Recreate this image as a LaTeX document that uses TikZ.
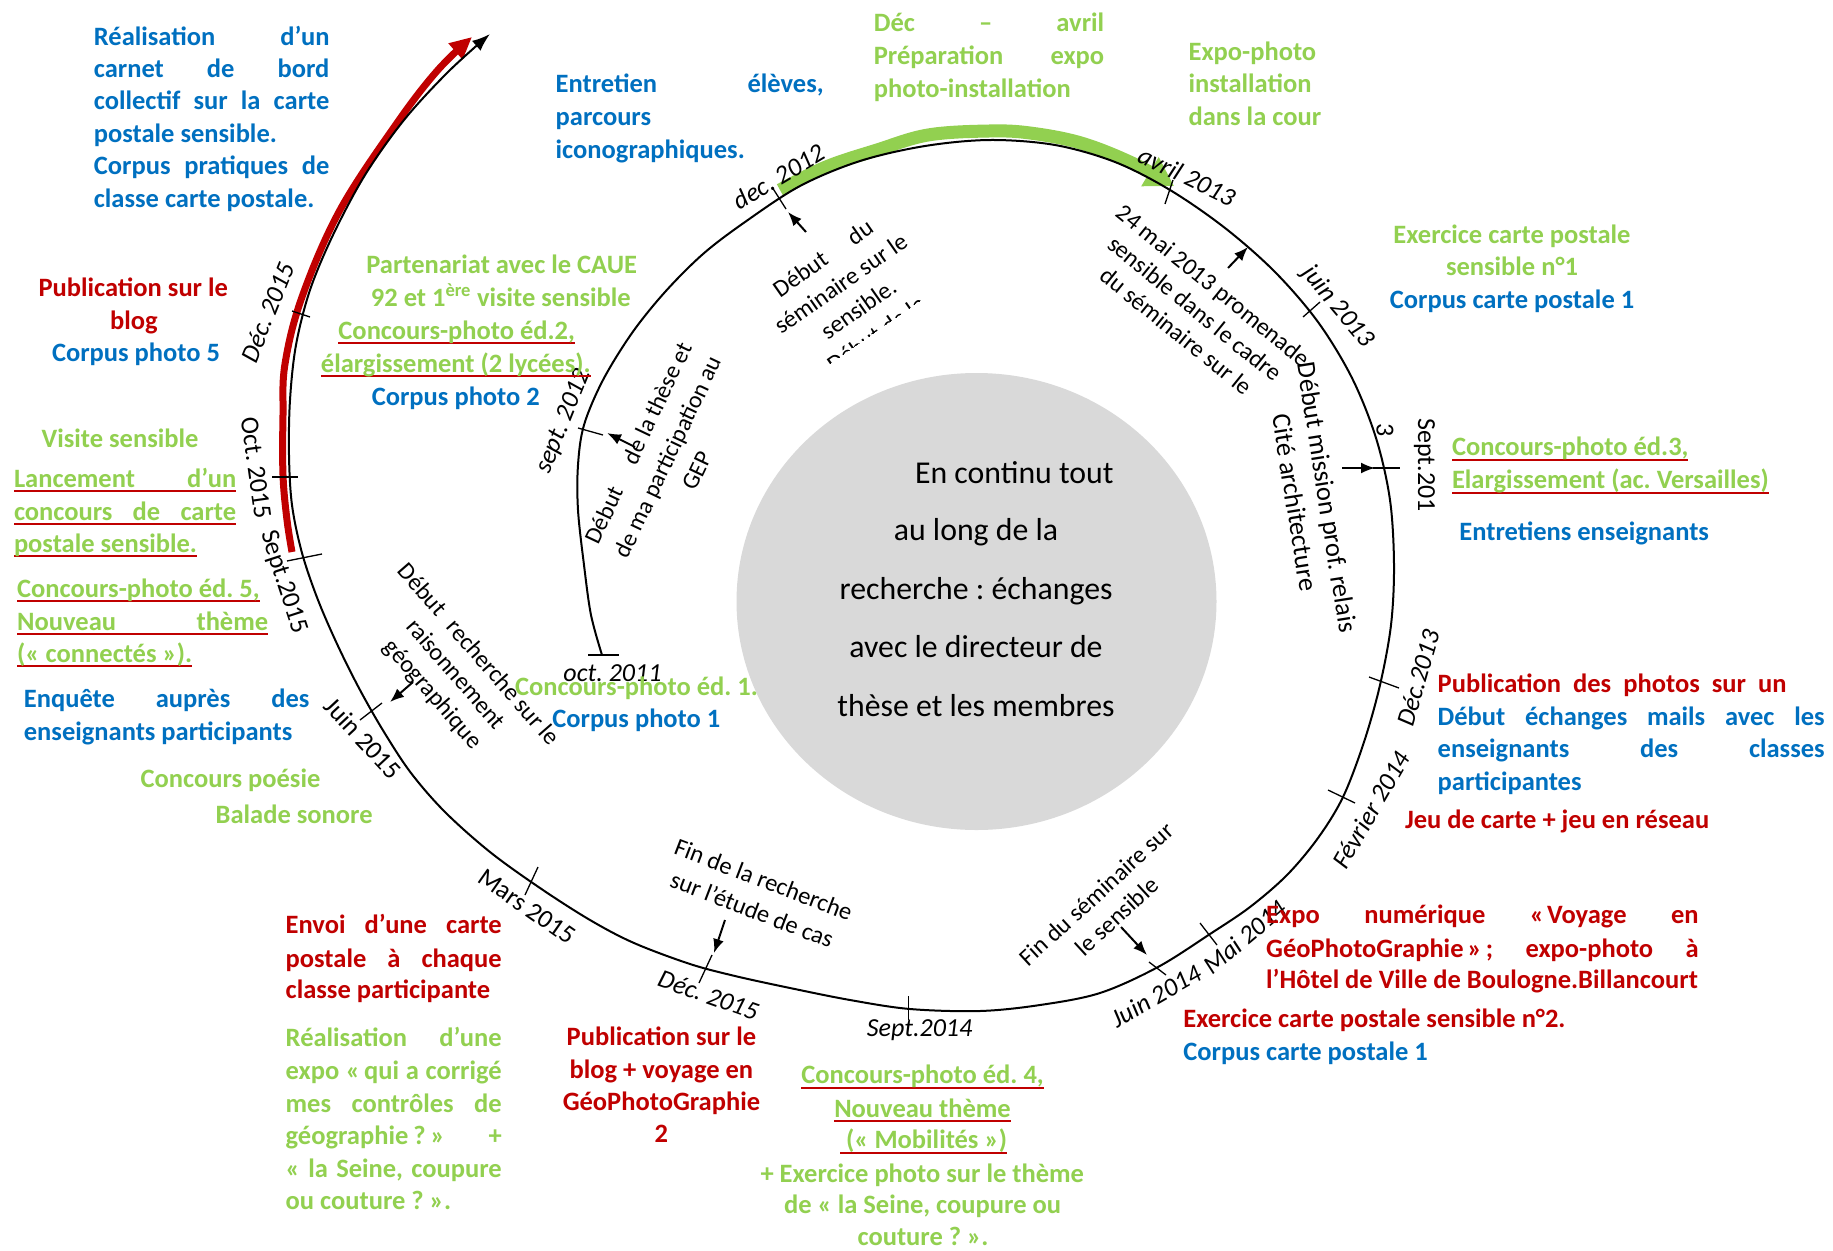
\documentclass[tikz,border=0pt]{standalone}
\usepackage{fontspec}
\setmainfont{Carlito}
\usetikzlibrary{arrows.meta,shapes.geometric}
\definecolor{cblue}{HTML}{0070C0}
\definecolor{cgreen}{HTML}{92D050}
\definecolor{cred}{HTML}{C00000}
\definecolor{cgray}{HTML}{D9D9D9}
\newlength\mylen
\newsavebox\ubox
\newcommand\redul[1]{\sbox\ubox{#1}\rlap{\color{cred}\rule[-5pt]{\wd\ubox}{2pt}}\usebox\ubox}
\newcommand\jline[2]{\makebox[#1pt][s]{#2}}
\tikzset{
 ct/.style={inner sep=0pt, font=\bfseries\fontsize{26.5}{32}\selectfont},
 bl/.style={ct, text=cblue},
 gr/.style={ct, text=cgreen},
 rd/.style={ct, text=cred},
 lab/.style={inner sep=0pt, align=center},
 dt/.style={inner sep=0pt, font=\itshape\fontsize{26}{30}\selectfont},
 du/.style={inner sep=0pt, font=\fontsize{26}{30}\selectfont},
 ctr/.style={inner sep=0pt, font=\fontsize{31.8}{40}\selectfont},
 tk/.style={line width=1.3pt},
 arw/.style={line width=2pt, -{Latex[length=14pt,width=11pt]}},
}
\begin{document}
\frenchspacing
\begin{tikzpicture}[x=1pt,y=-1pt]
\useasboundingbox (0,0) rectangle (1833,1250);
\fill[white] (0,0) rectangle (1833,1250);

% central disc
\node[ellipse, fill=cgray, minimum width=480pt, minimum height=457pt, inner sep=0pt] (disc) at (976.5,601.5) {};
\node[ctr, anchor=base east] (c1) at (1113.8,483) {En continu tout};
\node[ctr, anchor=base] (c2) at (976,540.5) {au long de la};
\node[ctr, anchor=base] (c3) at (976,599) {recherche : échanges};
\node[ctr, anchor=base] (c4) at (976,657.5) {avec le directeur de};
\node[ctr, anchor=base] (c5) at (976,716) {thèse et les membres};

% coloured arrows
\draw[cgreen, line width=13pt, -{Triangle[length=28pt,width=32pt]}] plot[smooth, tension=0.6] coordinates {(780,190) (826,167) (877,150) (928,135) (989,131) (1030,133) (1081,143) (1132,163) (1174,186)};
\draw[cred, line width=7pt, -{Triangle[length=22pt,width=20pt]}] plot[smooth, tension=0.6] coordinates {(292,552) (287,520) (283,475) (283,415) (285,364) (302,297) (340,210) (397,123) (437,71) (472,37)};

% spiral timeline
\draw[line width=2pt, -{Latex[length=18pt,width=13pt]}] plot[smooth, tension=0.55] coordinates {(602,655) (591,615) (584,565) (578,510) (578,465) (584,425) (603,380) (632,333) (665,292) (703,254) (745,222) (800,186) (860,161) (925,146) (990,140) (1055,145) (1115,162) (1170,190) (1225,228) (1275,272) (1318,322) (1352,378) (1376,438) (1390,500) (1394,565) (1391,625) (1380,685) (1364,742) (1343,797) (1318,838) (1287,875) (1250,907) (1210,934) (1158,967) (1100,993) (1040,1005) (980,1011) (910,1009) (850,1000) (790,988) (735,976) (690,964) (634,943) (590,920) (540,888) (490,852) (445,812) (411,773) (384,732) (360,690) (338,646) (318,600) (302,553) (292,505) (289,455) (290,400) (296,345) (310,290) (333,235) (365,175) (404,120) (448,72) (490,34)};

% ticks
\draw[tk] (588,655) -- (619,655);
\draw[tk] (578,428) -- (603,435);
\draw[tk] (772,187) -- (786,209);
\draw[tk] (1173,180) -- (1165,204);
\draw[tk] (1303,317) -- (1320,302);
\draw[tk] (1373,468) -- (1400,468);
\draw[tk] (1369,677) -- (1399,688);
\draw[tk] (1328,790) -- (1355,803);
\draw[tk] (1200,923) -- (1217,945);
\draw[tk] (1149,962) -- (1166,975);
\draw[tk] (908.5,996) -- (908.5,1020);
\draw[tk] (712,955) -- (699,983);
\draw[tk] (538,867) -- (525,895);
\draw[tk] (360,720) -- (382,703);
\draw[tk] (287,561) -- (322,554);
\draw[tk] (272,477) -- (298,477);
\draw[tk] (292,311) -- (310,317);

% dates
\node[dt] (d1) at (612.5,673) {oct. 2011};
\node[dt, rotate=68] (d2) at (564,421.7) {sept. 2012};
\node[dt, rotate=31] (d3) at (778.8,176.7) {dec. 2012};
\node[dt, rotate=-26] (d4) at (1187,176) {avril 2013};
\node[dt, rotate=-50] (d5) at (1337.5,306.7) {juin 2013};
\node[du, rotate=-90] (d6) at (1424.4,465) {Sept.201};
\node[du, rotate=-90] (d6b) at (1385,430) {3};
\node[dt, rotate=74] (d7) at (1418,678) {Déc.2013};
\node[dt, rotate=60] (d8) at (1371,810) {Février 2014};
\node[dt, rotate=40] (d9) at (1245,937) {Mai 2014};
\node[dt, rotate=30] (d10) at (1156,996) {Juin 2014};
\node[dt] (d11) at (919.6,1030) {Sept.2014};
\node[dt, rotate=-19.5] (d12) at (708.5,995) {Déc. 2015};
\node[du, rotate=-35] (d13) at (527,906.5) {Mars 2015};
\node[du, rotate=-47] (d14) at (363,738) {Juin 2015};
\node[du, rotate=-82] (d15) at (256,468) {Oct. 2015};
\node[du, rotate=-72] (d16) at (283.5,582) {Sept.2015};
\node[dt, rotate=68] (d17) at (267.5,312.5) {Déc. 2015};

% black event labels
\node[lab, rotate=64.6, font=\fontsize{24}{32.5}\selectfont] (these) at (667.6,456.7)
 {\settowidth\mylen{de ma participation au}\makebox[\mylen][l]{Début\hfill de la thèse et}\\de ma participation au\\GEP};
\begin{scope}[shift={(849.5,296)}, rotate=35]
 \clip (-140,-95) rectangle (140,44);
 \node[lab, rotate=35, font=\fontsize{24.3}{31}\selectfont] (semin) at (0,0)
  {\makebox[116pt][l]{Début\hfill du}\\séminaire sur le\\sensible.\\Début de la};
\end{scope}
\node[lab, rotate=-39, font=\fontsize{24.3}{29.5}\selectfont] (prom) at (1195,308.3) {24 mai 2013 promenade\\sensible dans le cadre\\du séminaire sur le};
\node[lab, rotate=-81, font=\fontsize{26.5}{32.6}\selectfont] (mission) at (1311.3,500) {Début mission prof. relais\\Cité architecture};
\node[lab, rotate=42.5, font=\fontsize{24.3}{30.2}\selectfont] (finsem) at (1106.6,905) {Fin du séminaire sur\\le sensible};
\node[lab, rotate=-21, font=\fontsize{24.5}{32}\selectfont] (finrech) at (757.9,894.6) {Fin de la recherche\\sur l’étude de cas};
\node[lab, rotate=-49, font=\fontsize{24.3}{30}\selectfont] (rais) at (455,675) {Début\hspace{8pt} recherche sur le\\raisonnement\\géographique};

% small arrows
\coordinate (a1s) at (635,447); \coordinate (a1e) at (607,433);
\coordinate (a2s) at (806,232); \coordinate (a2e) at (788,212);
\coordinate (a3s) at (1228,268); \coordinate (a3e) at (1248,247);
\coordinate (a4s) at (1342,468); \coordinate (a4e) at (1375,468);
\coordinate (a5s) at (1121,927); \coordinate (a5e) at (1147,955);
\coordinate (a6s) at (725,920); \coordinate (a6e) at (714,953);
\coordinate (a7s) at (413,682); \coordinate (a7e) at (390,702);
\draw[arw] (a1s) -- (a1e);
\draw[arw] (a2s) -- (a2e);
\draw[arw] (a3s) -- (a3e);
\draw[arw] (a4s) -- (a4e);
\draw[arw] (a5s) -- (a5e);
\draw[arw] (a6s) -- (a6e);
\draw[arw] (a7s) -- (a7e);

% coloured text blocks
\node[bl, anchor=base west] (b1a) at (93.7,45) {\jline{235.5}{Réalisation d’un}};
\node[bl, anchor=base west] (b1b) at (93.7,77.4) {\jline{235.5}{carnet de bord}};
\node[bl, anchor=base west] (b1c) at (93.7,109.8) {\jline{235.5}{collectif sur la carte}};
\node[bl, anchor=base west] (b1d) at (93.7,142.2) {postale sensible.};
\node[bl, anchor=base west] (b1e) at (93.7,174.6) {\jline{235.5}{Corpus pratiques de}};
\node[bl, anchor=base west] (b1f) at (93.7,207) {classe carte postale.};

\node[bl, anchor=base west] (b2a) at (555.5,92) {\jline{268}{Entretien élèves,}};
\node[bl, anchor=base west] (b2b) at (555.5,125.3) {parcours};
\node[bl, anchor=base west] (b2c) at (555.5,158.7) {iconographiques.};

\node[gr, anchor=base west] (g3a) at (873.6,31) {\jline{230.4}{Déc – avril}};
\node[gr, anchor=base west] (g3b) at (873.6,64.3) {\jline{230.4}{Préparation expo}};
\node[gr, anchor=base west] (g3c) at (873.6,97) {photo-installation};

\node[gr, anchor=base west] (g4a) at (1188.4,60.5) {Expo-photo};
\node[gr, anchor=base west] (g4b) at (1188.4,92.5) {installation};
\node[gr, anchor=base west] (g4c) at (1188.4,125) {dans la cour};

\node[gr, anchor=base] (g5a) at (1512,243.7) {Exercice carte postale};
\node[gr, anchor=base] (g5b) at (1512,275.3) {sensible n°1};
\node[bl, anchor=base] (b5c) at (1512,308.7) {Corpus carte postale 1};

\node[gr, anchor=base west] (g6a) at (1451.8,455.5) {\redul{Concours-photo éd.3,}};
\node[gr, anchor=base west] (g6b) at (1451.8,488.5) {\redul{Elargissement (ac. Versailles)}};
\node[bl, anchor=base west] (b7) at (1459.2,540.3) {Entretiens enseignants};

\node[rd, anchor=base west] (r8a) at (1437.5,692) {\jline{348.8}{Publication des photos sur un}};
\node[bl, anchor=base west] (b8b) at (1437.5,725.3) {\jline{387}{Début échanges mails avec les}};
\node[bl, anchor=base west] (b8c) at (1437.5,757) {\jline{387}{enseignants des classes}};
\node[bl, anchor=base west] (b8d) at (1437.5,790.3) {participantes};
\node[rd, anchor=base west] (r8e) at (1404.8,828.7) {Jeu de carte + jeu en réseau};

\node[rd, anchor=base west] (r9a) at (1266,923.7) {\jline{432.4}{Expo numérique «\kern3pt Voyage en}};
\node[rd, anchor=base west] (r9b) at (1266,957) {\jline{432.4}{GéoPhotoGraphie\kern4pt»\kern4pt; expo-photo à}};
\node[rd, anchor=base west] (r9c) at (1266,988.7) {l’Hôtel de Ville de Boulogne.Billancourt};

\node[rd, anchor=base west] (r10a) at (1183.2,1027) {Exercice carte postale sensible n°2.};
\node[bl, anchor=base west] (b10b) at (1183.2,1060.3) {Corpus carte postale 1};

\node[gr, anchor=base] (g11a) at (922.5,1083.7) {\redul{Concours-photo éd. 4,}};
\node[gr, anchor=base] (g11b) at (922.5,1117) {\redul{Nouveau thème}};
\node[gr, anchor=base] (g11c) at (923.5,1148.7) {\redul{\kern6pt(«~Mobilités~»)}};
\node[gr, anchor=base] (g11d) at (922.3,1182) {+ Exercice photo sur le thème};
\node[gr, anchor=base] (g11e) at (922.5,1213.7) {de «~la Seine, coupure ou};
\node[gr, anchor=base] (g11f) at (923,1245) {couture ?~».};

\node[rd, anchor=base] (r12a) at (661.4,1045.3) {Publication sur le};
\node[rd, anchor=base] (r12b) at (661.4,1078.7) {blog + voyage en};
\node[rd, anchor=base] (r12c) at (661.4,1110.3) {GéoPhotoGraphie};
\node[rd, anchor=base] (r12d) at (661.4,1142) {2};

\node[rd, anchor=base west] (r13a) at (285.5,933.7) {\jline{216}{Envoi d’une carte}};
\node[rd, anchor=base west] (r13b) at (285.5,967) {\jline{216}{postale à chaque}};
\node[rd, anchor=base west] (r13c) at (285.5,998.7) {classe participante};

\node[gr, anchor=base west] (g14a) at (285.5,1046.3) {\jline{216}{Réalisation d’une}};
\node[gr, anchor=base west] (g14b) at (285.5,1079.7) {\jline{216}{expo «\kern4pt qui a corrigé}};
\node[gr, anchor=base west] (g14c) at (285.5,1112) {\jline{216}{mes contrôles de}};
\node[gr, anchor=base west] (g14d) at (285.5,1144.3) {\jline{216}{géographie\kern5pt?\kern5pt» +}};
\node[gr, anchor=base west] (g14e) at (285.5,1177) {\jline{216}{« la Seine, coupure}};
\node[gr, anchor=base west] (g14f) at (285.5,1209.7) {ou couture ?~».};

\node[gr, anchor=base west] (g15a) at (140.4,787) {Concours poésie};
\node[gr, anchor=base west] (g15b) at (215.5,823.7) {Balade sonore};

\node[bl, anchor=base west] (b16a) at (23.7,707) {\jline{285.5}{Enquête auprès des}};
\node[bl, anchor=base west] (b16b) at (23.7,740.3) {enseignants participants};

\node[gr, anchor=base west] (g17a) at (17,597) {\redul{Concours-photo éd. 5,}};
\node[gr, anchor=base west] (g17b) at (17,630.3) {\redul{\jline{251}{Nouveau thème}}};
\node[gr, anchor=base west] (g17c) at (17,662) {\redul{(«~connectés~»).}};

\node[gr, anchor=base west] (g18) at (41.5,447) {Visite sensible};
\node[gr, anchor=base west] (g19a) at (13.8,487) {\redul{\jline{222.2}{Lancement d’un}}};
\node[gr, anchor=base west] (g19b) at (13.8,520.3) {\redul{\jline{222.2}{concours de carte}}};
\node[gr, anchor=base west] (g19c) at (13.8,552) {\redul{postale sensible.}};

\node[rd, anchor=base] (r20a) at (133.3,296.3) {Publication sur le};
\node[rd, anchor=base] (r20b) at (134,329.7) {blog};
\node[bl, anchor=base] (b20c) at (136,361) {Corpus photo 5};

\node[gr, anchor=base] (g21a) at (501.7,273.7) {Partenariat avec le CAUE};
\node[gr, anchor=base] (g21b) at (500.8,306) {92 et 1\textsuperscript{ère} visite sensible};
\node[gr, anchor=base] (g21c) at (456.7,339.3) {\redul{Concours-photo éd.2,}};
\node[gr, anchor=base] (g21d) at (455.8,372) {\redul{élargissement (2 lycées).}};
\node[bl, anchor=base] (b21e) at (455.8,405.3) {Corpus photo 2};

\node[gr, anchor=base west] (g22a) at (515,695.3) {Concours-photo éd. 1.};
\node[bl, anchor=base] (b22b) at (636.3,727.7) {Corpus photo 1};
\end{tikzpicture}
\end{document}
